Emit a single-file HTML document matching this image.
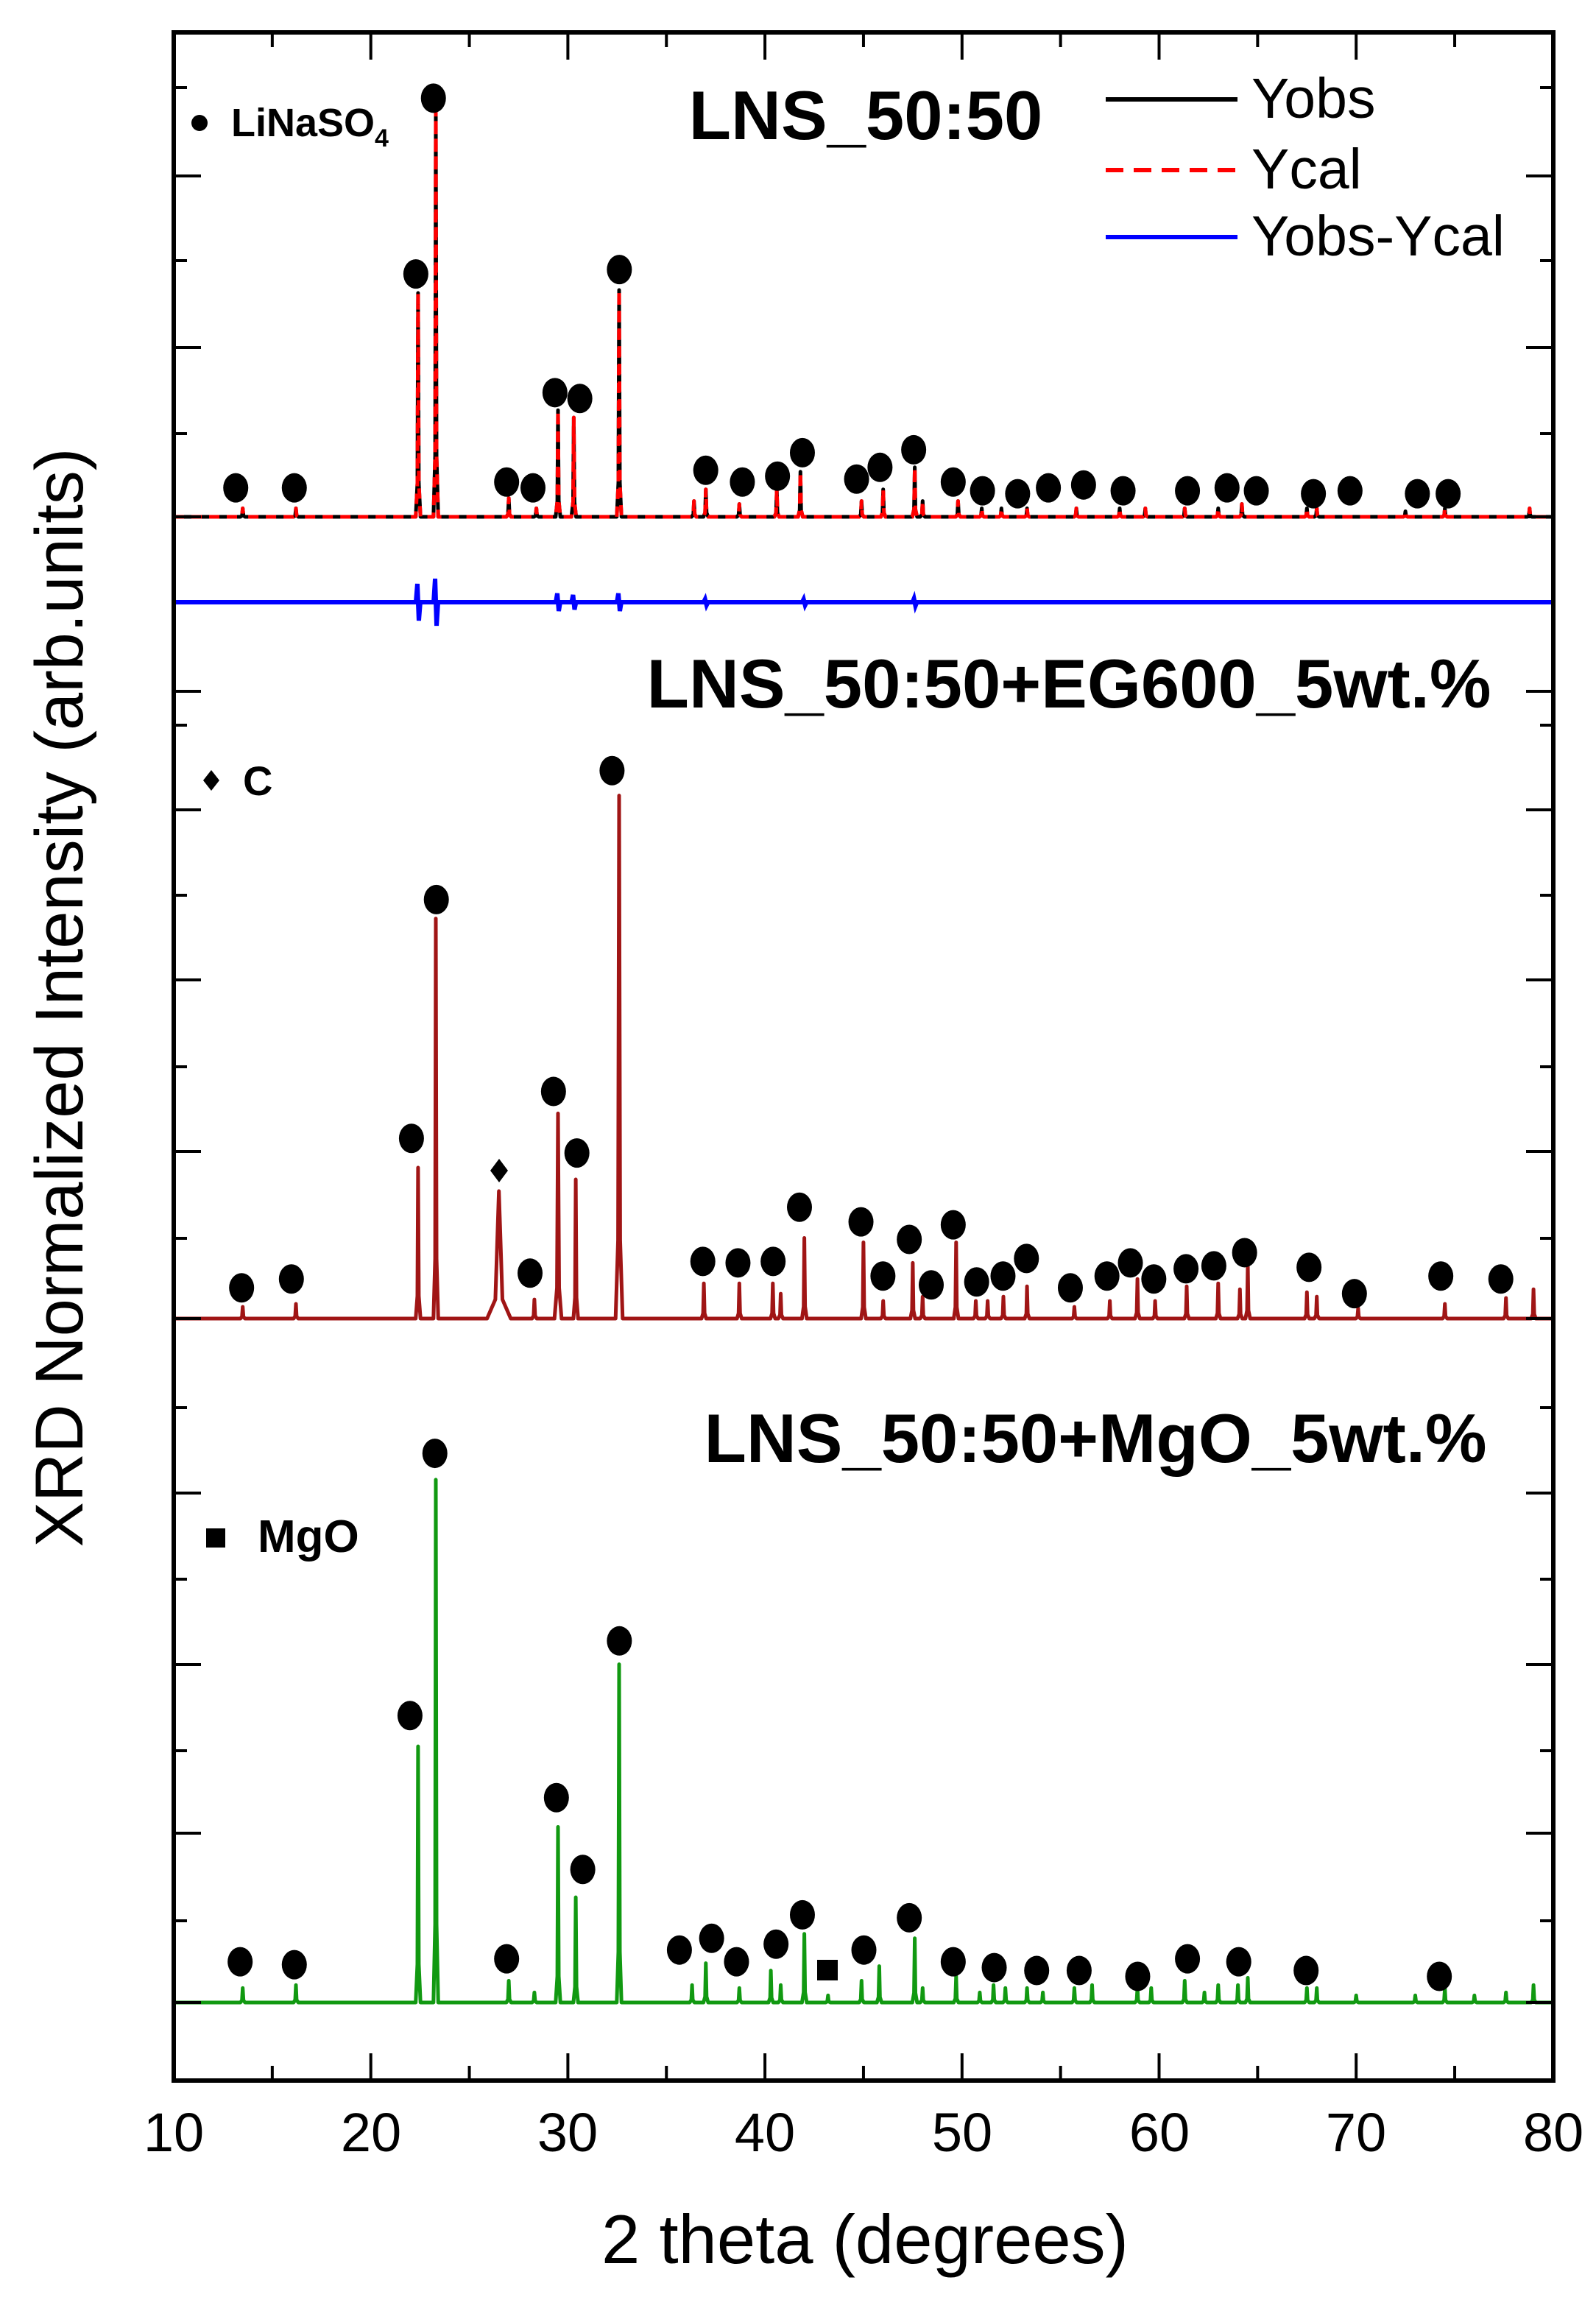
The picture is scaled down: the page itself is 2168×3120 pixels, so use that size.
<!DOCTYPE html>
<html><head><meta charset="utf-8"><style>
html,body{margin:0;padding:0;background:#fff;}
svg{display:block;}
text{font-family:"Liberation Sans",Arial,sans-serif;}
</style></head><body>
<svg id="s" width="2168" height="3120" viewBox="0 0 2168 3120" xmlns="http://www.w3.org/2000/svg">
<rect width="2168" height="3120" fill="#fff"/>
<g id="data"></g>
<g id="ticks" stroke="#000" stroke-width="4"></g>
<rect x="236" y="44" width="1874" height="2782" fill="none" stroke="#000" stroke-width="6"/>
<line x1="1502" y1="135" x2="1681" y2="135" stroke="#000" stroke-width="6"/>
<line x1="1502" y1="231" x2="1681" y2="231" stroke="#f00" stroke-width="6" stroke-dasharray="24,14"/>
<line x1="1502" y1="322" x2="1681" y2="322" stroke="#0000ff" stroke-width="6"/>
<text x="1700" y="160" font-size="77">Yobs</text>
<text x="1700" y="256" font-size="77">Ycal</text>
<text x="1700" y="347" font-size="77">Yobs-Ycal</text>
<text x="1176" y="189" font-size="94" font-weight="bold" text-anchor="middle">LNS_50:50</text>
<text x="1452" y="961" font-size="94" font-weight="bold" text-anchor="middle">LNS_50:50+EG600_5wt.%</text>
<text x="1488" y="1986" font-size="94" font-weight="bold" text-anchor="middle">LNS_50:50+MgO_5wt.%</text>
<circle cx="271" cy="167" r="11" fill="#000"/>
<text x="314" y="185" font-size="54" font-weight="bold">LiNaSO<tspan font-size="34" dy="14">4</tspan></text>
<path d="M287 1046 L298 1060 L287 1074 L276 1060 Z" fill="#000"/>
<text x="330" y="1080" font-size="56" font-weight="bold">C</text>
<rect x="280" y="2076" width="26" height="26" fill="#000"/>
<text x="350" y="2108" font-size="62" font-weight="bold">MgO</text>
<g font-size="74" text-anchor="middle">
<text x="236" y="2922">10</text><text x="504" y="2922">20</text><text x="771" y="2922">30</text><text x="1039" y="2922">40</text><text x="1307" y="2922">50</text><text x="1575" y="2922">60</text><text x="1842" y="2922">70</text><text x="2110" y="2922">80</text>
</g>
<text x="1175" y="3074" font-size="94" text-anchor="middle">2 theta (degrees)</text>
<text transform="translate(112,1355) rotate(-90)" font-size="92" text-anchor="middle">XRD Normalized Intensity (arb.units)</text>
</svg>
<script>
(function(){
var NS="http://www.w3.org/2000/svg";
function X(d){return 236+(d-10)*26.77;}
var data=document.getElementById('data'),tk=document.getElementById('ticks');
function el(n,a,p){var e=document.createElementNS(NS,n);for(var k in a)e.setAttribute(k,a[k]);(p||data).appendChild(e);return e;}
function spectrum(base,peaks,color,extra){
  peaks=peaks.slice().sort(function(a,b){return a[0]-b[0];});
  var pts=[[X(10),base]];
  peaks.forEach(function(p){var w=(p[2]||0.12)*26.77;var x=X(p[0]);var y=p[1]*1.99;
    pts.push([x-w,base]);pts.push([x-w*0.3,(base+y)/2+(base-y)*0.35]);pts.push([x,y]);pts.push([x+w*0.3,(base+y)/2+(base-y)*0.35]);pts.push([x+w,base]);});
  pts.push([X(80),base]);
  var a={points:pts.map(function(p){return p[0].toFixed(1)+','+p[1].toFixed(1);}).join(' '),fill:'none',stroke:color,'stroke-width':5,'stroke-linejoin':'round'};
  for(var k in extra)a[k]=extra[k];
  el('polyline',a);
}
function dots(list){list.forEach(function(d){el('ellipse',{cx:d[0]*1.989,cy:d[1]*1.99,rx:17,ry:20,fill:'#000'});});}
var tp=[[13.5,347],[16.2,347],[22.4,200],[23.3,75],[27,340],[28.4,347],[29.5,280],[30.3,285],[32.6,198],[36.4,342],[37,334],[38.7,344],[40.6,334],[41.8,322],[44.9,342],[46,334],[47.6,319],[48,342],[49.8,342],[51,347],[52,347],[53.3,347],[55.8,347],[58,347],[59.3,347],[61.3,347],[63,347],[64.2,344],[67.5,347],[68,347],[72.5,349],[74.5,347],[78.8,347]];
spectrum(702,tp,'#000',{});
spectrum(702,tp,'#f00',{'stroke-dasharray':'14,10'});
var dp=[[X(10),818]];
[[22.4,25],[23.3,32],[29.5,12],[30.3,10],[32.6,12],[37,4],[42,4],[47.6,5]].forEach(function(p){var x=X(p[0]);dp.push([x-3,818]);dp.push([x-1,818-p[1]]);dp.push([x+1,818+p[1]]);dp.push([x+3,818]);});
dp.push([X(80),818]);
el('polyline',{points:dp.map(function(p){return p.join(',');}).join(' '),fill:'none',stroke:'#0000ff','stroke-width':6});
dots([[161,333],[201,333],[284,187],[296,67],[346,329],[364,333],[379,268],[396,272],[423,184],[482,321],[507,329],[531,325],[548,309],[585,327],[601,319],[624,307],[651,329],[671,335],[695,337],[716,333],[740,331],[767,335],[811,335],[838,333],[858,335],[897,337],[922,335],[968,337],[989,337]]);
spectrum(1791,[[13.5,892],[16.2,890],[22.4,797],[23.3,627],[26.5,813,0.6],[28.3,887],[29.5,760,0.18],[30.4,805],[32.6,543,0.18],[36.9,876],[38.7,876],[40.4,876],[40.8,883],[42,845],[45,848],[46,888],[47.5,862],[48,885],[49.7,848],[50.7,888],[51.3,888],[52.1,885],[53.3,878],[55.7,892],[57.5,888],[58.9,873],[59.8,888],[61.4,878],[63,876],[64.1,880],[64.5,863],[67.5,882],[68,885],[70.1,893],[74.5,890],[77.6,886],[79,880]],'#a01515',{});
dots([[165,879],[199,873],[281,777],[298,614],[362,869],[378,745],[394,787],[418,526],[480,861],[504,862],[528,861],[546,824],[588,834],[603,871],[621,846],[636,877],[651,836],[667,875],[685,871],[701,859],[731,879],[756,871],[772,862],[788,873],[810,866],[829,864],[850,855],[894,865],[925,883],[984,871],[1025,873]]);
el('path',{d:'M678 1574 L690 1590 L678 1606 L666 1590 Z',fill:'#000'});
spectrum(2720,[[13.5,1357],[16.2,1355],[22.4,1192],[23.3,1010],[27,1352],[28.3,1360],[29.5,1247],[30.4,1295],[32.6,1136],[36.3,1355],[37,1340],[38.7,1357],[40.3,1345],[40.8,1355],[42,1320],[43.2,1362],[44.9,1352],[45.8,1342],[47.6,1323],[48,1357],[49.7,1349],[50.9,1360],[51.6,1355],[52.2,1357],[53.3,1357],[54.1,1360],[55.7,1357],[56.6,1355],[58.9,1357],[59.6,1357],[61.3,1352],[62.3,1360],[63,1355],[64,1355],[64.5,1350],[67.5,1357],[68,1357],[70,1362],[73,1362],[74.5,1357],[76,1362],[77.6,1360],[79,1355]],'#119911',{});
dots([[164,1339],[201,1341],[346,1337],[280,1171],[297,992],[380,1227],[398,1276],[423,1120],[464,1331],[486,1323],[503,1339],[530,1327],[548,1307],[590,1331],[621,1309],[651,1339],[679,1343],[708,1345],[737,1345],[777,1349],[811,1337],[846,1339],[892,1345],[983,1349]]);
el('rect',{x:1110,y:2662,width:28,height:28,fill:'#000'});
[119,354,589,985,1216,1449,1682,1912,2145,2378,2609].forEach(function(y){el('line',{x1:236,y1:y,x2:254,y2:y},tk);el('line',{x1:2110,y1:y,x2:2092,y2:y},tk);});
[239,472,702,939,1100,1331,1564,1791,2028,2261,2490,2720].forEach(function(y){el('line',{x1:236,y1:y,x2:273,y2:y},tk);el('line',{x1:2110,y1:y,x2:2073,y2:y},tk);});
for(var d=10;d<=80;d+=5){var x=X(d),L=(d%10==0)?37:20;el('line',{x1:x,y1:2826,x2:x,y2:2826-L},tk);el('line',{x1:x,y1:44,x2:x,y2:44+L},tk);}
})();
</script>
</body></html>
